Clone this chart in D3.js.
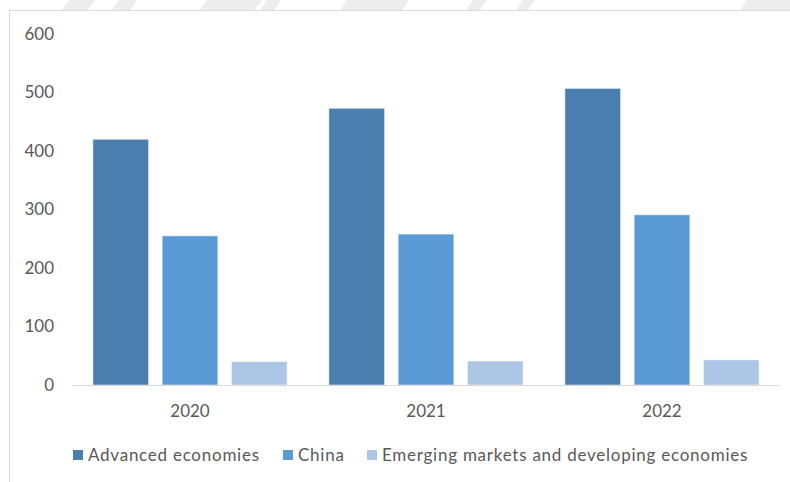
<!DOCTYPE html>
<html>
<head>
<meta charset="utf-8">
<script src="https://cdn.jsdelivr.net/npm/d3@7"></script>
<style>
  html, body { margin: 0; padding: 0; background: #fff; }
  svg { display: block; }
  text { font-family: Lato, "Open Sans", sans-serif; fill: #595959; }
</style>
</head>
<body>
<svg id="chart" width="790" height="482"></svg>
<script>
// Chart data
const years = ["2020", "2021", "2022"];
const seriesNames = ["Advanced economies", "China", "Emerging markets and developing economies"];
const advanced = [420, 473, 507];
const china = [255, 258, 291];
const emerging = [40, 41, 43];
const yTicks = [0, 100, 200, 300, 400, 500, 600];
const colors = ["#4a7eaf", "#5b9bd5", "#adc6e6"];

const seriesValues = [advanced, china, emerging];

const W = 790, H = 482;
const svg = d3.select("#chart");

// Decorative slanted bands along the top edge (start, end at the bottom edge)
const bandSpans = [[62, 88], [112, 130], [200, 255], [260, 274], [340, 402], [466, 480], [516, 528], [740, 800]];
svg.append("g").selectAll("path").data(bandSpans).join("path")
  .attr("d", d => `M${d[0] + 7},0 L${d[1] + 7},0 L${d[1]},10 L${d[0]},10 Z`)
  .attr("fill", "#ededed");

// Frame
svg.append("line").attr("x1", 9).attr("x2", W).attr("y1", 10.5).attr("y2", 10.5)
  .attr("stroke", "#d9d9d9").attr("stroke-width", 1);
svg.append("line").attr("x1", 9.5).attr("x2", 9.5).attr("y1", 10).attr("y2", H)
  .attr("stroke", "#d9d9d9").attr("stroke-width", 1);

// Scales
const plot = { left: 72, right: 780, top: 34, bottom: 385 };
const x0 = d3.scaleBand().domain(years)
  .range([plot.left, plot.right])
  .paddingInner(0.177).paddingOuter(0.0885);
const x1 = d3.scaleBand().domain(d3.range(seriesNames.length))
  .range([0, x0.bandwidth()])
  .paddingInner(0.196).paddingOuter(0);
const y = d3.scaleLinear().domain([0, 600]).range([plot.bottom, plot.top]);

// Y axis labels
const yAxis = d3.axisLeft(y).tickValues(yTicks).tickSize(0).tickPadding(0);
const gy = svg.append("g").attr("transform", "translate(54,0)").call(yAxis);
gy.select(".domain").remove();
gy.selectAll("text").attr("font-size", 17).attr("fill", "#595959")
  .style("font-family", "Lato, sans-serif");

// Bars
const groups = svg.append("g").selectAll("g").data(years).join("g")
  .attr("transform", d => `translate(${x0(d)},0)`);
groups.selectAll("rect")
  .data((d, i) => seriesValues.map((vals, s) => ({ s, v: vals[i] })))
  .join("rect")
  .attr("x", d => x1(d.s))
  .attr("width", x1.bandwidth())
  .attr("y", d => y(d.v))
  .attr("height", d => y(0) - y(d.v))
  .attr("fill", d => colors[d.s])
  .attr("stroke", "#ffffff").attr("stroke-opacity", 0.5).attr("stroke-width", 1);

// X axis
const xAxis = d3.axisBottom(x0).tickSize(0).tickPadding(0);
const gx = svg.append("g").attr("transform", `translate(0,${plot.bottom})`).call(xAxis);
gx.select(".domain").attr("stroke", "#d9d9d9").attr("d", `M${plot.left},0.5H${plot.right}`);
gx.selectAll("text").attr("font-size", 17).attr("fill", "#595959")
  .attr("dy", 0).attr("y", 32)
  .style("font-family", "Lato, sans-serif");

// Legend
const legendX = [73, 283, 367];
const legend = svg.append("g").selectAll("g").data(seriesNames).join("g")
  .attr("transform", (d, i) => `translate(${legendX[i]},455)`);
legend.append("rect").attr("x", 0).attr("y", -5).attr("width", 10).attr("height", 10)
  .attr("fill", (d, i) => colors[i]);
legend.append("text").attr("x", 15).attr("y", 0).attr("dy", "0.35em")
  .attr("font-size", 17).attr("letter-spacing", 0.75).text(d => d);
</script>
</body>
</html>
